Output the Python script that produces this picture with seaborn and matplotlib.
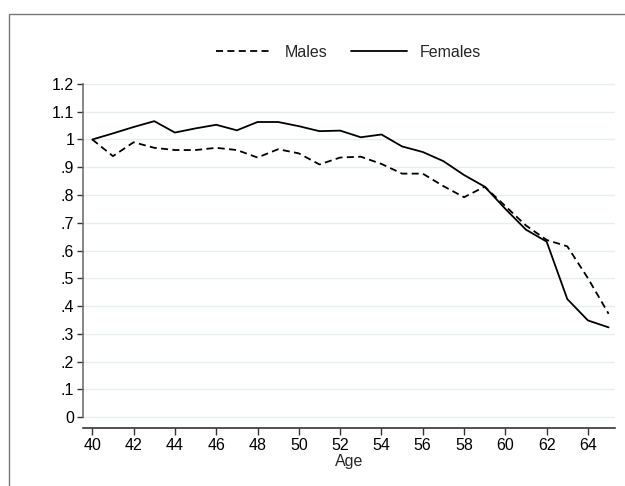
import pandas as pd
import matplotlib.pyplot as plt
import seaborn as sns
from matplotlib.patches import Rectangle

ages = list(range(40, 66))
males = [1.000, 0.940, 0.990, 0.970, 0.962, 0.962, 0.970, 0.962, 0.935, 0.965,
         0.950, 0.910, 0.935, 0.938, 0.912, 0.877, 0.877, 0.832, 0.792, 0.830,
         0.760, 0.690, 0.638, 0.615, 0.500, 0.372]
females = [1.000, 1.022, 1.045, 1.066, 1.025, 1.040, 1.053, 1.033, 1.063, 1.063,
           1.048, 1.030, 1.032, 1.008, 1.018, 0.975, 0.955, 0.922, 0.872, 0.830,
           0.750, 0.675, 0.632, 0.425, 0.348, 0.323]

df = pd.DataFrame({
    "Age": ages * 2,
    "Ratio": males + females,
    "Sex": ["Males"] * len(ages) + ["Females"] * len(ages),
})

sns.set_style("white")
plt.rcParams["font.family"] = ["Liberation Sans", "DejaVu Sans"]

fig = plt.figure(figsize=(6.25, 4.86), dpi=100)
ax = fig.add_axes([0.132, 0.1187, 0.852, 0.7142])

sns.lineplot(data=df, x="Age", y="Ratio", style="Sex", color="black",
             dashes={"Males": (3.9, 2.4), "Females": ""}, linewidth=1.3, ax=ax)

handles, labels = ax.get_legend_handles_labels()
ax.get_legend().remove()
pairs = [(h, l) for h, l in zip(handles, labels) if l in ("Males", "Females")]
fig.legend([p[0] for p in pairs], [p[1] for p in pairs], loc="center",
           bbox_to_anchor=(0.558, 0.892), ncol=2, frameon=False, fontsize=11.5,
           handlelength=3.5, handletextpad=0.8, columnspacing=1.5)

ax.set_xlim(39.525, 65.31)
ax.set_ylim(-0.0407, 1.21)
ax.set_xticks(range(40, 66, 2))
yt = [i / 10 for i in range(13)]
ax.set_yticks(yt)
ylabels = ["0", ".1", ".2", ".3", ".4", ".5", ".6", ".7", ".8", ".9", "1", "1.1", "1.2"]
ax.set_yticklabels(ylabels)
ax.tick_params(axis="both", labelsize=11.5, colors="#333333", labelcolor="black",
               length=4, width=1, pad=2, bottom=True, left=True)
ax.tick_params(axis="x", length=5)
ax.set_xlabel("Age", fontsize=11.5, labelpad=0.5)
ax.set_ylabel("")

ax.yaxis.grid(True, color="#e6eff0", linewidth=1)
ax.xaxis.grid(False)
ax.set_axisbelow(True)

for s in ["top", "right"]:
    ax.spines[s].set_visible(False)
ax.spines["left"].set_bounds(0, 1.2)
ax.spines["left"].set_color("#666666")
ax.spines["bottom"].set_color("#222222")
ax.spines["left"].set_linewidth(1.1)
ax.spines["bottom"].set_linewidth(1.1)

fig.patches.append(Rectangle((9 / 625, -0.2), 1.2, 1.2 - 14 / 486,
                             transform=fig.transFigure, fill=False,
                             edgecolor="#777777", linewidth=1.0))

fig.savefig("out.png", dpi=100)
plt.close()
